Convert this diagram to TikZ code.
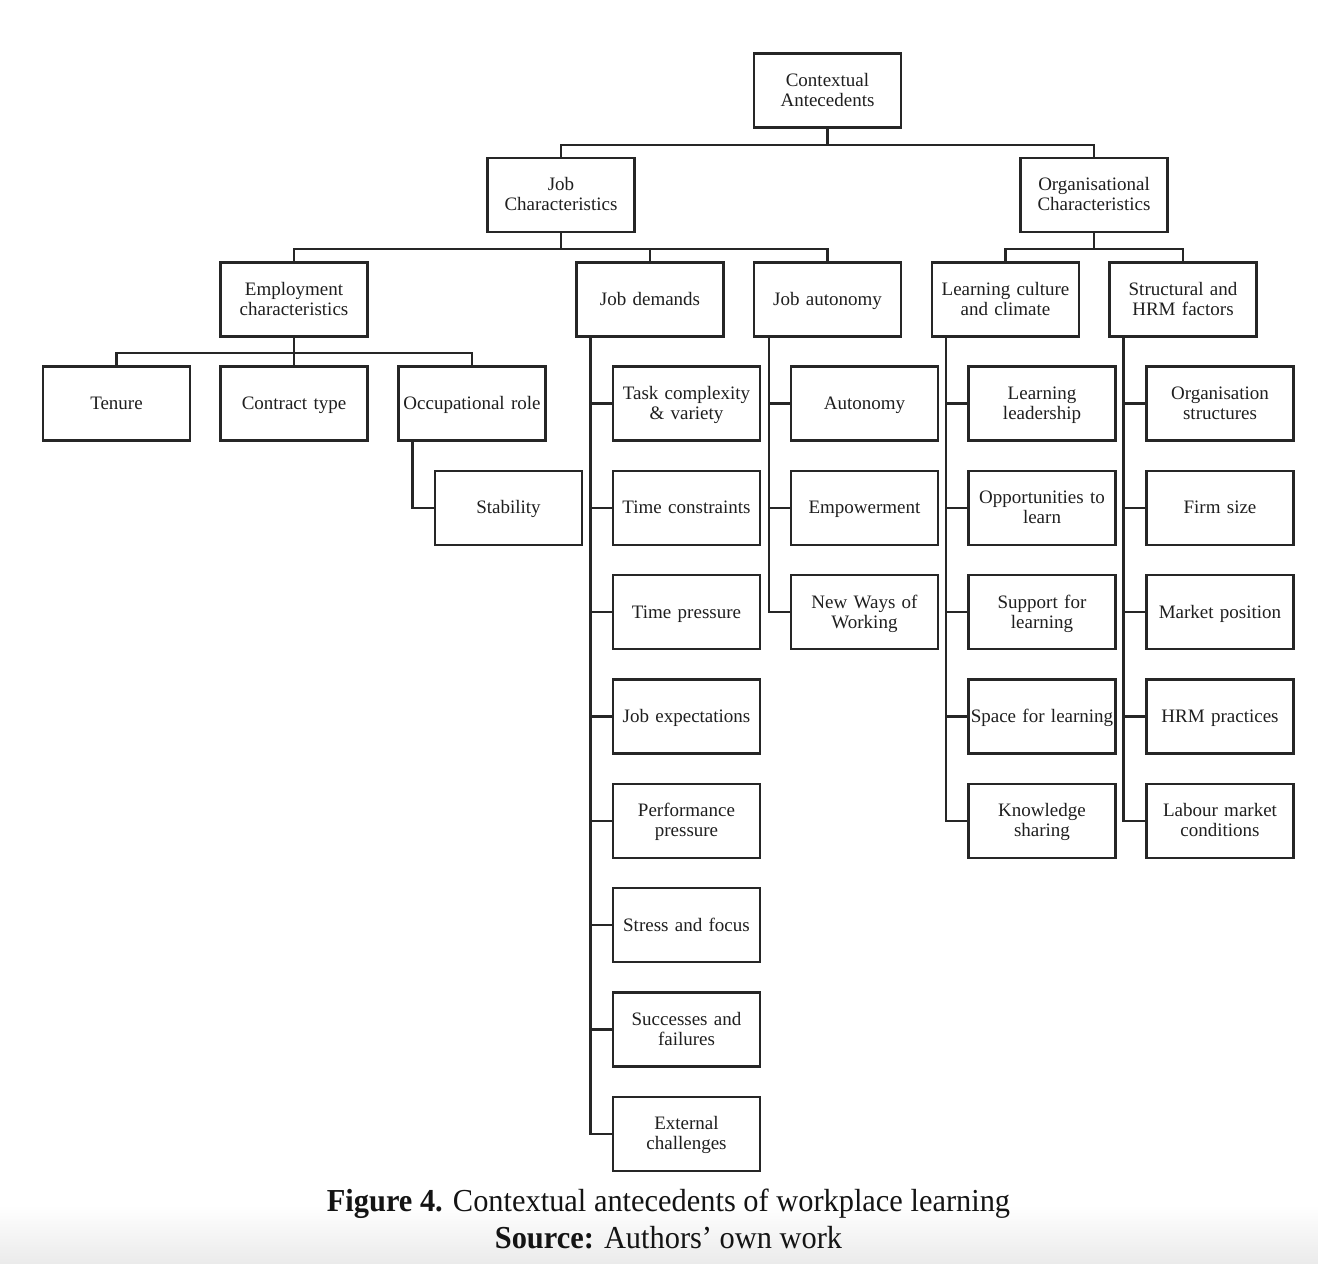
\documentclass[tikz,border=0pt]{standalone}
\usepackage{fontspec}
\setmainfont{Liberation Serif}
\newfontfamily\capfont[FakeStretch=0.95]{Liberation Serif}
\usetikzlibrary{calc}
\begin{document}
\begin{tikzpicture}[x=1pt,y=-1pt,
  box/.style={draw=black!85, line width=2.1pt, minimum width=147pt, minimum height=74pt,
    text width=145pt, inner sep=0pt, align=center, text=black!88,
    font=\fontsize{19}{20}\selectfont,
    execute at begin node={\rule{0pt}{16pt}}, execute at end node={\rule[-4.2pt]{0pt}{4.2pt}}},
  link/.style={draw=black!85, line width=2.1pt}]
\useasboundingbox (0,0) rectangle (1318,1264);
\fill[white] (0,0) rectangle (1318,1264);
\shade[top color=white, bottom color=black!8] (0,1205) rectangle (1318,1264);
% rows
\def\ra{403.5}\def\rb{507.8}\def\rc{612.2}\def\rd{716.5}
\def\re{820.8}\def\rf{925.2}\def\rg{1029.5}\def\rh{1133.9}
% level 1-3
\node[box] (ctx) at (827.5,90.5) {Contextual\\Antecedents};
\node[box] (jc) at (561,195) {Job\\Characteristics};
\node[box] (oc) at (1094,195) {Organisational\\Characteristics};
\node[box] (emp) at (294,299.5) {Employment\\characteristics};
\node[box] (jd) at (650,299.5) {Job demands};
\node[box] (ja) at (827.5,299.5) {Job autonomy};
\node[box] (lc) at (1005.5,299.5) {Learning culture\\and climate};
\node[box] (sh) at (1183,299.5) {Structural and\\HRM factors};
% employment
\node[box] (ten) at (116.5,\ra) {Tenure};
\node[box] (con) at (294,\ra) {Contract type};
\node[box] (occ) at (472,\ra) {Occupational role};
\node[box] (stab) at (508.5,\rb) {Stability};
% job demands
\node[box] (jd1) at (686.5,\ra) {Task complexity\\\& variety};
\node[box] (jd2) at (686.5,\rb) {Time constraints};
\node[box] (jd3) at (686.5,\rc) {Time pressure};
\node[box] (jd4) at (686.5,\rd) {Job expectations};
\node[box] (jd5) at (686.5,\re) {Performance\\pressure};
\node[box] (jd6) at (686.5,\rf) {Stress and focus};
\node[box] (jd7) at (686.5,\rg) {Successes and\\failures};
\node[box] (jd8) at (686.5,\rh) {External\\challenges};
% job autonomy
\node[box] (ja1) at (864.5,\ra) {Autonomy};
\node[box] (ja2) at (864.5,\rb) {Empowerment};
\node[box] (ja3) at (864.5,\rc) {New Ways of\\Working};
% learning culture
\node[box] (lc1) at (1042,\ra) {Learning\\leadership};
\node[box] (lc2) at (1042,\rb) {Opportunities to\\learn};
\node[box] (lc3) at (1042,\rc) {Support for\\learning};
\node[box] (lc4) at (1042,\rd) {Space for learning};
\node[box] (lc5) at (1042,\re) {Knowledge\\sharing};
% structural
\node[box] (sh1) at (1220,\ra) {Organisation\\structures};
\node[box] (sh2) at (1220,\rb) {Firm size};
\node[box] (sh3) at (1220,\rc) {Market position};
\node[box] (sh4) at (1220,\rd) {HRM practices};
\node[box] (sh5) at (1220,\re) {Labour market\\conditions};
% connectors
\foreach \c in {jc,oc} \draw[link] (ctx.south) -- ++(0,16) -| (\c.north);
\foreach \c in {emp,jd,ja} \draw[link] (jc.south) -- ++(0,16) -| (\c.north);
\foreach \c in {lc,sh} \draw[link] (oc.south) -- ++(0,16) -| (\c.north);
\foreach \c in {ten,con,occ} \draw[link] (emp.south) -- ++(0,15.5) -| (\c.north);
\draw[link] ($(occ.south west)+(15,0)$) |- (stab.west);
\foreach \c in {jd1,jd2,jd3,jd4,jd5,jd6,jd7,jd8} \draw[link] ($(jd.south west)+(15,0)$) |- (\c.west);
\foreach \c in {ja1,ja2,ja3} \draw[link] ($(ja.south west)+(16,0)$) |- (\c.west);
\foreach \c in {lc1,lc2,lc3,lc4,lc5} \draw[link] ($(lc.south west)+(15,0)$) |- (\c.west);
\foreach \c in {sh1,sh2,sh3,sh4,sh5} \draw[link] ($(sh.south west)+(15,0)$) |- (\c.west);
% caption
\node[font=\capfont\fontsize{32}{37}\selectfont, align=center, text=black!92] (cap) at (668.5,1219)
  {\textbf{Figure 4.} Contextual antecedents of workplace learning\\\textbf{Source:} Authors’ own work};
\end{tikzpicture}
\end{document}
